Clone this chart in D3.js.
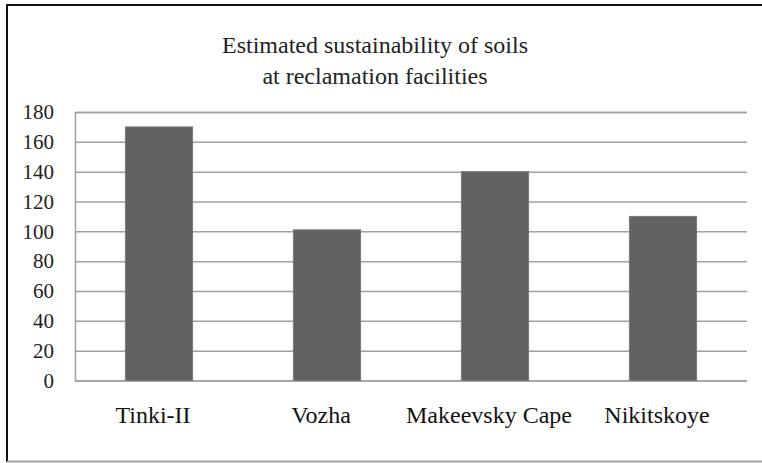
<!DOCTYPE html>
<html><head><meta charset="utf-8">
<script src="https://cdn.jsdelivr.net/npm/d3@7"></script>
<style>html,body{margin:0;padding:0;background:#fff;}svg{display:block;} svg text{font-family:"Liberation Serif","DejaVu Serif","Times New Roman",serif !important;}</style>
</head><body>
<script>
const categories = ["Tinki-II", "Vozha", "Makeevsky Cape", "Nikitskoye"];
const values = [170, 101, 140, 110];
const yTicks = [0, 20, 40, 60, 80, 100, 120, 140, 160, 180];
const titleLines = ["Estimated sustainability of soils", "at reclamation facilities"];

(function () {
const W = 762, H = 463;
const svg = d3.select("body").append("svg").attr("width", W).attr("height", H);

// outer frame (top, left dark; bottom gray)
svg.append("line").attr("x1", 7).attr("x2", W).attr("y1", 5).attr("y2", 5).attr("stroke", "#111").attr("stroke-width", 2);
svg.append("line").attr("x1", 7).attr("x2", 7).attr("y1", 4).attr("y2", 462).attr("stroke", "#111").attr("stroke-width", 2);
svg.append("line").attr("x1", 7).attr("x2", W).attr("y1", 461.5).attr("y2", 461.5).attr("stroke", "#a0a0a0").attr("stroke-width", 2);

const mLeft = 75, mRight = 747, mTop = 112, mBottom = 380.5;
const x = d3.scaleBand().domain(categories).range([mLeft, mRight]).paddingInner(0.6).paddingOuter(0.3);
const y = d3.scaleLinear().domain([0, 180]).range([mBottom, mTop]);

// gridlines
const yAxis = d3.axisLeft(y).tickValues(yTicks).tickSize(-(mRight - mLeft)).tickFormat(d => d);
const gy = svg.append("g").attr("transform", `translate(${mLeft},0)`).call(yAxis);
gy.select(".domain").attr("stroke", "#a0a0a0").attr("stroke-width", 1.5);
gy.selectAll(".tick line").attr("stroke", "#a0a0a0").attr("stroke-width", 1.5);
gy.selectAll(".tick text").attr("x", -21).attr("font-size", 21).attr("fill", "#222");

// bars
svg.append("g").selectAll("rect").data(values).join("rect")
  .attr("x", (d, i) => x(categories[i]))
  .attr("y", d => y(d))
  .attr("width", x.bandwidth())
  .attr("height", d => y(0) - y(d))
  .attr("fill", "#626262")
  .attr("stroke", "#7a7a7a").attr("stroke-width", 1);

// x axis labels
const xAxis = d3.axisBottom(x).tickSize(0).tickPadding(0);
const gx = svg.append("g").attr("transform", `translate(0,${mBottom})`).call(xAxis);
gx.select(".domain").remove();
gx.selectAll(".tick text").attr("y", 42).attr("dy", 0).attr("dx", -6).attr("font-size", 24).attr("fill", "#111");

// title
svg.append("text").attr("text-anchor", "middle").attr("font-size", 24).attr("fill", "#222")
  .selectAll("tspan").data(titleLines).join("tspan")
  .attr("x", 375).attr("y", (d, i) => 53 + i * 31).text(d => d);
})();
</script>
</body></html>
